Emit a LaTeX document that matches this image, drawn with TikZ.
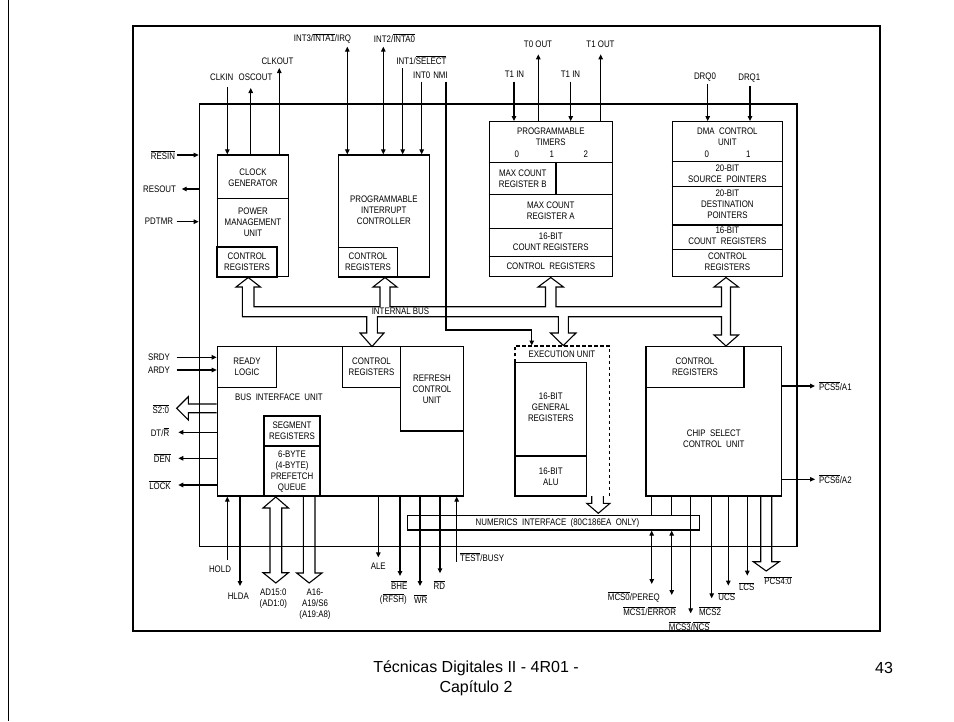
\documentclass[tikz,border=0pt]{standalone}
\usepackage{fontspec}
\setmainfont{Liberation Sans}
\newfontfamily\dfam[FakeStretch=0.83]{Liberation Sans}
\usetikzlibrary{arrows.meta,fit}
\newcommand{\ovl}[1]{$\overline{\mbox{#1}}$}
\begin{document}
\begin{tikzpicture}[x=1pt,y=-1pt]
\tikzset{
 blk/.style={draw, line width=1.3pt, inner sep=0pt},
 pinl/.style={line width=1.1pt},
 tip/.style={-{Triangle[length=5pt,width=4.5pt]}},
 tips/.style={{Triangle[length=5pt,width=4.5pt]}-{Triangle[length=5pt,width=4.5pt]}},
 lbl/.style={font=\dfam\fontsize{9.5}{11}\selectfont, inner sep=0pt, align=center},
 hol/.style={draw, line width=1.1pt, line join=miter},
 foot/.style={font=\fontsize{16}{20}\selectfont, align=center, inner sep=0pt}
}
\useasboundingbox (0,0) rectangle (954,721);
\fill[white] (0,0) rectangle (954,721);
\draw[line width=1pt] (8,0) -- (8,721);

% frame and chip
\node[draw, line width=2.4pt, inner sep=0pt, fit={(133,26) (880,631)}] (frame) {};
\node[blk, fit={(199.3,104) (797,546.7)}] (chip) {};

% clock / power management
\node[blk, fit={(217.3,155) (288.5,276.7)}] (clk) {};
\draw[blk] (clk.west |- 0,198.3) -- (clk.east |- 0,198.3);
\node[blk, line width=1.8pt, fit={(217.3,246.7) (276.7,276.7)}] (clkcr) {};
\node[lbl] (tclk) at (253,177.5) {CLOCK\\GENERATOR};
\node[lbl] (tpmu) at (253,222.3) {POWER\\MANAGEMENT\\UNIT};
\node[lbl] (tclkcr) at (clkcr) {CONTROL\\REGISTERS};

% interrupt controller
\node[blk, fit={(338.3,155) (429.3,277)}] (pic) {};
\node[blk, fit={(338.3,247.3) (397.7,277)}] (piccr) {};
\node[lbl] (tpic) at (383.8,210.7) {PROGRAMMABLE\\INTERRUPT\\CONTROLLER};
\node[lbl] (tpiccr) at (piccr) {CONTROL\\REGISTERS};

% timers
\node[blk, fit={(489.3,121.7) (612.3,276.7)}] (tim) {};
\draw[blk] (tim.west |- 0,162.7) -- (tim.east |- 0,162.7);
\draw[blk] (tim.west |- 0,194.3) -- (tim.east |- 0,194.3);
\draw[blk] (556,162.7) -- (556,194.3);
\draw[blk] (tim.west |- 0,228.3) -- (tim.east |- 0,228.3);
\draw[blk] (tim.west |- 0,256.7) -- (tim.east |- 0,256.7);
\node[lbl] (ttim) at (550.8,137) {PROGRAMMABLE\\TIMERS};
\node[lbl] (tt0) at (516.7,154.3) {0};
\node[lbl] (tt1) at (551.7,154.3) {1};
\node[lbl] (tt2) at (585.7,154.3) {2};
\node[lbl] (tmcb) at (522.7,178.5) {MAX COUNT\\REGISTER B};
\node[lbl] (tmca) at (550.8,210.7) {MAX COUNT\\REGISTER A};
\node[lbl] (ttcnt) at (550.8,242.2) {16-BIT\\COUNT REGISTERS};
\node[lbl] (ttcr) at (550.8,266.7) {CONTROL\ \ REGISTERS};

% DMA
\node[blk, fit={(672.3,121.7) (782.5,276.7)}] (dma) {};
\foreach \yy in {161.7,186.7,225,249.3}
  \draw[blk] (dma.west |- 0,\yy) -- (dma.east |- 0,\yy);
\node[lbl] (tdma) at (727.4,137) {DMA\ \ CONTROL\\UNIT};
\node[lbl] (td0) at (706.7,154.3) {0};
\node[lbl] (td1) at (748.3,154.3) {1};
\node[lbl] (tsrc) at (727.4,173.8) {20-BIT\\SOURCE\ \ POINTERS};
\node[lbl] (tdst) at (727.4,204.5) {20-BIT\\DESTINATION\\POINTERS};
\node[lbl] (tdcnt) at (727.4,236.2) {16-BIT\\COUNT\ \ REGISTERS};
\node[lbl] (tdcr) at (727.4,262) {CONTROL\\REGISTERS};

% bus interface unit
\node[blk, fit={(217.3,346.7) (463.3,496)}] (biu) {};
\node[blk, fit={(217.3,346.7) (276.7,387.7)}] (rdy) {};
\node[blk, fit={(342.3,346.7) (400.7,387.7)}] (biucr) {};
\node[blk, fit={(400.7,346.7) (463.3,431)}] (rfsh) {};
\node[blk, fit={(264,416) (320,496)}] (seg) {};
\draw[blk] (seg.west |- 0,446) -- (seg.east |- 0,446);
\node[lbl] (trdy) at (rdy) {READY\\LOGIC};
\node[lbl] (tbiucr) at (biucr) {CONTROL\\REGISTERS};
\node[lbl] (trfsh) at (432,389.5) {REFRESH\\CONTROL\\UNIT};
\node[lbl] (tbiu) at (279,397.7) {BUS\ \ INTERFACE\ \ UNIT};
\node[lbl] (tseg) at (292,431.2) {SEGMENT\\REGISTERS};
\node[lbl] (tque) at (292,471.2) {6-BYTE\\(4-BYTE)\\PREFETCH\\QUEUE};

% execution unit
\node[inner sep=0pt, fit={(515,345.7) (609.3,496)}] (eu) {};
\draw[line width=1.6pt, dash pattern=on 3.5pt off 2.5pt] (515,362.3) -- (515,345.7) -- (609.3,345.7) -- (609.3,496);
\node[blk, fit={(515,362.3) (586.7,496)}] (gr) {};
\draw[blk] (gr.west |- 0,456) -- (gr.east |- 0,456);
\node[lbl] (teu) at (562,354) {EXECUTION UNIT};
\node[lbl] (tgr) at (550.8,407.6) {16-BIT\\GENERAL\\REGISTERS};
\node[lbl] (talu) at (550.8,477.2) {16-BIT\\ALU};
\draw[hol] (591.7,496) -- (591.7,503.3) -- (586.7,503.3) -- (598.3,513.3) -- (610,503.3) -- (603.3,503.3) -- (603.3,496);

% numerics interface
\node[blk, fit={(407.7,515.5) (699.3,530)}] (num) {};
\node[lbl] (tnum) at (557.5,522.7) {NUMERICS\ \ INTERFACE\ \ (80C186EA\ \ ONLY)};

% chip select unit
\node[blk, fit={(646,346.7) (781.7,496)}] (cs) {};
\node[blk, fit={(646,346.7) (744,387.7)}] (cscr) {};
\node[lbl] (tcscr) at (cscr) {CONTROL\\REGISTERS};
\node[lbl] (tcs) at (713.8,438.8) {CHIP\ \ SELECT\\CONTROL\ \ UNIT};

% internal bus
\draw[hol] (242.3,316.7) -- (242.3,287) -- (236,287) -- (248.2,277.5) -- (260.5,287) -- (254,287) -- (254,306.7)
 -- (380,306.7) -- (380,287) -- (373,287) -- (385,277.5) -- (397,287) -- (390,287) -- (390,306.7)
 -- (545.5,306.7) -- (545.5,287) -- (538,287) -- (550.8,277.5) -- (563.5,287) -- (556,287) -- (556,306.7)
 -- (721.5,306.7) -- (721.5,287) -- (714,287) -- (726,277.5) -- (738.5,287) -- (730.5,287) -- (730.5,335)
 -- (738.5,335) -- (726,346) -- (714,335) -- (721.5,335) -- (721.5,316.7)
 -- (568.3,316.7) -- (568.3,333) -- (576,333) -- (563.3,345.5) -- (550.5,333) -- (558.3,333) -- (558.3,316.7)
 -- (377.3,316.7) -- (377.3,333) -- (384,333) -- (372,346.5) -- (360,333) -- (366.7,333) -- (366.7,316.7) -- cycle;
\node[lbl] (tbus) at (400.5,311.7) {INTERNAL BUS};

% top pins
\node[lbl] (lclkin) at (221.7,77.7) {CLKIN};
\node[lbl] (losc) at (255.5,77.7) {OSCOUT};
\node[lbl] (lclkout) at (277.5,61.7) {CLKOUT};
\draw[pinl,tip] (227.3,86.7) -- (clk.north -| 227.3,0);
\draw[pinl,tip] (clk.north -| 250.7,0) -- (250.7,88);
\draw[pinl,tip] (clk.north -| 279.3,0) -- (279.3,68);
\node[lbl] (lint3) at (322.5,38.3) {INT3/\ovl{INTA1}/IRQ};
\node[lbl] (lint2) at (394.5,38.3) {INT2/\ovl{INTA0}};
\node[lbl] (lint1) at (421.5,60) {INT1/\ovl{SELECT}};
\node[lbl] (lint0) at (421.7,75) {INT0};
\node[lbl] (lnmi) at (440.5,75) {NMI};
\draw[pinl,tips] (347.3,46.7) -- (pic.north -| 347.3,0);
\draw[pinl,tips] (383.3,46.7) -- (pic.north -| 383.3,0);
\draw[pinl,tip] (402.7,68) -- (pic.north -| 402.7,0);
\draw[pinl,tip] (421.7,81.7) -- (pic.north -| 421.7,0);
\draw[pinl,tip] (446,81.7) -- (446,330) -- (531.7,330) -- (eu.north -| 531.7,0);
\node[lbl] (lt0in) at (514.5,74.3) {T1 IN};
\node[lbl] (lt0out) at (538,44.3) {T0 OUT};
\node[lbl] (lt1in) at (570.5,74.3) {T1 IN};
\node[lbl] (lt1out) at (600.5,44.3) {T1 OUT};
\draw[pinl,tip] (514,81.7) -- (tim.north -| 514,0);
\draw[pinl,tip] (tim.north -| 538.3,0) -- (538.3,54.3);
\draw[pinl,tip] (570.7,81.7) -- (tim.north -| 570.7,0);
\draw[pinl,tip] (tim.north -| 600.7,0) -- (600.7,54.3);
\node[lbl] (ldrq0) at (705,76.7) {DRQ0};
\node[lbl] (ldrq1) at (749.3,78.3) {DRQ1};
\draw[pinl,tip] (707.7,84) -- (dma.north -| 707.7,0);
\draw[pinl,tip] (750,85.5) -- (dma.north -| 750,0);

% left pins
\node[lbl] (lresin) at (163,155) {\ovl{RESIN}};
\node[lbl] (lresout) at (159.5,189) {RESOUT};
\node[lbl] (lpdtmr) at (159,221.7) {PDTMR};
\node[lbl] (lsrdy) at (159,357.3) {SRDY};
\node[lbl] (lardy) at (159,370) {ARDY};
\node[lbl] (ls20) at (160.8,409) {\ovl{S2:0}};
\node[lbl] (ldtr) at (160,432.3) {DT/\ovl{R}};
\node[lbl] (lden) at (162.3,458.3) {\ovl{DEN}};
\node[lbl] (llock) at (160,485) {\ovl{LOCK}};
\draw[pinl,tip] (176.7,155) -- (chip.west |- 0,155);
\draw[pinl,tip] (chip.west |- 0,189) -- (181.7,189);
\draw[pinl,tip] (176.7,221.7) -- (chip.west |- 0,221.7);
\draw[pinl,tip] (176.7,357.3) -- (biu.west |- 0,357.3);
\draw[pinl,tip] (176.7,370) -- (biu.west |- 0,370);
\draw[hol] (biu.west |- 0,404) -- (188.3,404) -- (188.3,396.7) -- (176.7,408.3) -- (188.3,420) -- (188.3,412.7) -- (biu.west |- 0,412.7);
\draw[pinl,tip] (biu.west |- 0,432.3) -- (178.3,432.3);
\draw[pinl,tip] (biu.west |- 0,458.3) -- (178.3,458.3);
\draw[pinl,tip] (biu.west |- 0,485) -- (178.3,485);

% bottom pins of BIU
\node[lbl] (lhold) at (220,569) {HOLD};
\node[lbl] (lhlda) at (238.3,596) {HLDA};
\node[lbl] (lad) at (273.3,598.3) {AD15:0\\(AD1:0)};
\node[lbl] (la16) at (315,604.3) {A16-\\A19/S6\\(A19:A8)};
\node[lbl] (lale) at (378.3,566.7) {ALE};
\node[lbl] (lbhe) at (399.3,585) {\ovl{BHE}};
\node[lbl] (lrfsh) at (393.3,599) {(\ovl{RFSH})};
\node[lbl] (lwr) at (420.7,599) {\ovl{WR}};
\node[lbl] (lrd) at (439.3,585) {\ovl{RD}};
\node[lbl, anchor=west] (ltest) at (460,557) {\ovl{TEST}/BUSY};
\draw[pinl,tip] (227.3,560) -- (biu.south -| 227.3,0);
\draw[pinl,tip] (biu.south -| 240,0) -- (240,586);
\draw[hol] (270,508) -- (263,508) -- (275.8,497) -- (288.5,508) -- (281.7,508) -- (281.7,572.7) -- (288.5,572.7) -- (275.8,583) -- (263,572.7) -- (270,572.7) -- cycle;
\draw[hol] (biu.south -| 303.3,0) -- (303.3,573) -- (296.7,573) -- (309.2,583) -- (322,573) -- (315,573) -- (biu.south -| 315,0);
\draw[pinl,tip] (biu.south -| 378.3,0) -- (378.3,557.3);
\draw[pinl,tip] (biu.south -| 400,0) -- (400,576);
\draw[pinl,tip] (biu.south -| 420,0) -- (420,586);
\draw[pinl,tip] (biu.south -| 440,0) -- (440,573.3);
\draw[pinl,tip] (456.7,562) -- (biu.south -| 456.7,0);

% chip select pins
\draw[pinl] (cs.south -| 651.7,0) -- (num.north -| 651.7,0);
\draw[pinl,tips] (num.south -| 651.7,0) -- (651.7,584);
\draw[pinl] (cs.south -| 671.7,0) -- (num.north -| 671.7,0);
\draw[pinl,tips] (num.south -| 671.7,0) -- (671.7,595);
\draw[pinl,tip] (cs.south -| 690.7,0) -- (690.7,613.3);
\draw[pinl,tip] (cs.south -| 711.7,0) -- (711.7,598.3);
\draw[pinl,tip] (cs.south -| 728.3,0) -- (728.3,585.7);
\draw[pinl,tip] (cs.south -| 747.3,0) -- (747.3,575.7);
\draw[hol] (cs.south -| 760.7,0) -- (760.7,561.7) -- (753.3,561.7) -- (766.2,571) -- (779.3,561.7) -- (771.7,561.7) -- (cs.south -| 771.7,0);
\node[lbl] (lmcs0) at (633.8,596.7) {\ovl{MCS0}/PEREQ};
\node[lbl] (lmcs1) at (649.7,611) {\ovl{MCS1}/\ovl{ERROR}};
\node[lbl] (lmcs3) at (689.3,626) {\ovl{MCS3}/\ovl{NCS}};
\node[lbl] (lmcs2) at (710,611) {\ovl{MCS2}};
\node[lbl] (lucs) at (726.7,596.7) {\ovl{UCS}};
\node[lbl] (llcs) at (746.7,586.7) {\ovl{LCS}};
\node[lbl] (lpcs40) at (778,580.7) {\ovl{PCS4:0}};

% right pins
\draw[pinl,tip] (cs.east |- 0,386) -- (815,386);
\draw[pinl,tip] (cs.east |- 0,479.3) -- (815,479.3);
\node[lbl, anchor=west] (lpcs5) at (819,386) {\ovl{PCS5}/A1};
\node[lbl, anchor=west] (lpcs6) at (819,479.3) {\ovl{PCS6}/A2};

% footer
\node[foot] (ftitle) at (476,678) {Técnicas Digitales II - 4R01 -\\Capítulo 2};
\node[foot] (fpage) at (884,668) {43};
\end{tikzpicture}
\end{document}
